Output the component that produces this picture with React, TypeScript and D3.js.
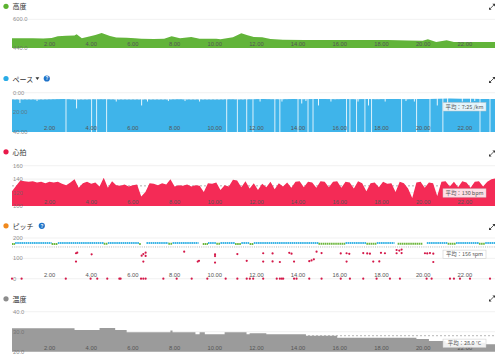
import React from 'react';
import * as d3 from 'd3';

// ---------- data ----------
const totalKm = 23.17;
const distanceTicks = [2, 4, 6, 8, 10, 12, 14, 16, 18, 20, 22];

const altitude: [number, number][] = [
  [0, 494], [0.5, 495], [1.0, 494], [1.5, 493], [1.9, 496], [2.2, 505], [2.6, 508], [3.0, 510],
  [3.1, 516], [3.35, 494], [3.75, 506], [4.0, 512], [4.3, 524], [4.7, 507], [5.0, 498], [5.5, 497],
  [5.9, 494], [6.2, 491], [6.8, 490], [7.3, 491], [7.66, 506], [8.06, 494], [8.6, 501], [9.0, 492],
  [9.8, 491], [10.0, 489], [10.6, 500], [11.0, 522], [11.3, 511], [11.6, 501], [12.0, 500], [12.4, 490],
  [13.0, 486], [14.0, 485], [15.0, 484], [16.0, 485], [17.0, 484], [18.0, 484], [19.0, 482], [19.7, 481],
  [19.95, 489], [20.35, 473], [20.85, 483], [21.2, 473], [22.0, 473], [23.17, 473],
];

const paceBase: [number, number][] = [
  [0, 7.0], [0.5, 6.9], [1.0, 6.8], [1.5, 6.9], [2.0, 6.7], [2.5, 6.3], [3.0, 6.8], [3.5, 6.9],
  [4.0, 6.6], [4.5, 6.7], [5.0, 6.8], [5.5, 6.9], [6.0, 7.0], [6.5, 6.8], [7.0, 6.9], [7.5, 6.8],
  [8.0, 6.7], [8.5, 6.8], [9.0, 6.9], [9.5, 6.8], [10.0, 6.9], [10.5, 6.7], [11.0, 6.8], [11.5, 6.6],
  [12.0, 6.5], [12.5, 6.6], [13.0, 6.7], [13.5, 6.5], [14.0, 6.6], [14.5, 6.4], [15.0, 6.5], [15.5, 6.6],
  [16.0, 6.5], [16.5, 6.6], [17.0, 6.5], [17.5, 6.6], [18.0, 6.5], [18.5, 6.4], [19.0, 6.6], [19.5, 6.5],
  [20.0, 6.4], [20.5, 6.2], [21.0, 6.0], [21.5, 6.1], [22.0, 6.2], [22.5, 6.3], [23.0, 6.4], [23.17, 6.5],
];
const paceDips: [number, number][] = [
  [0.38, 10.5], [1.2, 8.5], [3.1, 16], [5.0, 9], [6.22, 13], [6.5, 9], [7.5, 8.5], [8.3, 8.5],
  [9.0, 9], [11.9, 9], [12.95, 9], [13.9, 11], [14.1, 8.5], [14.7, 13], [15.3, 9], [16.6, 9],
  [17.1, 13], [17.9, 9], [18.9, 8.5], [19.3, 9], [20.4, 13], [20.9, 11], [21.6, 9], [22.0, 10], [22.2, 8.5],
];
const paceStops = [
  2.59, 3.82, 4.06, 4.54, 10.3, 10.81, 11.26, 11.56, 12.61, 12.85, 13.72, 14.2, 14.44, 16.05,
  16.21, 16.53, 16.93, 17.25, 18.69, 19.41, 20.05, 20.67, 22.45, 22.93,
];
const paceAvg = 7 + 25 / 60;

// heart rate every 0.2 km
const heartRate = [
  122, 130, 138, 137, 136, 137,
  135, 136, 134, 136, 135,
  136, 133, 131, 135, 140,
  127, 134, 136, 133, 135,
  129, 142, 127, 137, 131,
  130, 132, 129, 131, 132,
  114, 121, 134, 133, 131,
  134, 132, 140, 129, 131,
  130, 132, 129, 131, 130,
  121, 134, 133, 135, 124,
  131, 129, 139, 138, 128,
  137, 126, 134, 124, 133,
  128, 136, 125, 134, 129,
  135, 127, 136, 137, 128,
  136, 135, 127, 137, 136,
  128, 136, 137, 127, 136,
  135, 126, 137, 134, 122,
  134, 135, 128, 136, 133,
  134, 121, 136, 134, 126,
  112, 135, 136, 127, 135,
  134, 115, 136, 137, 129,
  136, 128, 137, 135, 127,
  136, 137, 129, 136, 140,
  141,
];
const hrStep = 0.2;
const hrAvg = 130;

// cadence runs [startKm, endKm, spm]
const cadenceRuns: [number, number, number][] = [
  [0, 0.15, 171], [0.15, 1.9, 176], [1.9, 2.2, 171], [2.2, 4.4, 176], [4.4, 4.6, 172], [4.6, 6.1, 176],
  [6.1, 6.18, 170], [6.45, 7.5, 176], [7.5, 7.7, 172], [7.7, 8.95, 176], [9.15, 9.4, 171], [9.4, 9.8, 176],
  [9.8, 10.0, 172], [10.0, 10.7, 176], [10.7, 11.0, 171], [11.0, 11.4, 176], [11.4, 11.6, 171],
  [11.6, 14.7, 176], [14.7, 16.0, 172], [16.0, 17.0, 176], [17.0, 17.5, 172], [17.5, 18.35, 176],
  [18.5, 19.7, 172], [19.9, 20.9, 176], [20.9, 21.3, 172], [21.3, 22.4, 176], [22.4, 22.7, 172],
  [22.7, 23.17, 176],
];
const cadenceLow: [number, number][] = [
  [3.07, 125], [3.13, 128], [3.07, 84], [3.82, 120], [6.22, 113], [6.3, 121], [6.41, 128], [6.41, 112],
  [6.3, 84], [8.26, 133], [8.91, 84], [8.97, 88], [9.74, 120], [9.74, 111], [9.74, 79], [10.81, 121],
  [11.26, 88],
  [12.05, 125], [12.5, 124], [13.3, 127], [13.41, 123], [14.61, 133], [14.85, 126], [15.77, 124],
  [16.05, 125], [16.18, 122], [16.85, 126], [17.04, 124], [17.17, 123], [17.7, 127], [17.89, 125],
  [18.45, 141], [18.58, 138], [18.69, 143], [18.45, 125], [18.69, 126], [19.81, 125], [19.92, 124],
  [20.05, 126], [20.21, 123],
  [12.05, 84], [12.5, 85], [12.85, 82], [13.53, 84], [14.26, 86], [14.37, 90], [14.48, 95],
  [16.05, 84], [17.33, 84], [17.62, 85], [20.21, 82],
];
const cadenceZero = [
  0.0, 0.46, 2.58, 3.77, 4.09, 4.57, 5.15, 5.21, 6.19, 6.3, 6.41, 7.26, 7.9, 8.62, 9.37, 10.25,
  10.81, 11.26, 11.41, 11.57, 12.05, 12.7, 12.85, 12.94, 13.01, 13.53, 13.65, 14.26, 14.85, 15.77,
  16.21, 16.85, 17.49, 18.13, 18.61, 19.89, 20.13, 21.01, 21.2, 21.49, 21.97, 22.93,
];
const cadenceAvg = 156;

// temperature steps [startKm, °C]
const temperature: [number, number][] = [
  [0, 31.7], [3.0, 30.8], [4.2, 31.8], [4.95, 30.8], [5.5, 29.7], [7.6, 30.6], [7.7, 29.7],
  [8.8, 28.7], [9.0, 29.7], [9.25, 28.7], [10.2, 29.7], [11.25, 28.7], [11.4, 29.2], [12.2, 28.7],
  [14.1, 28.0], [15.6, 27.0], [19.4, 26.3], [20.0, 25.3], [20.8, 24.5], [22.7, 23.7], [23.17, 23.7],
];
const tempAvg = 28.0;

const titles = ['高度', 'ペース', '心拍', 'ピッチ', '温度'];
const dotColors = ['#5bb22f', '#29abe6', '#e8194a', '#f0891d', '#8c8c8c'];
const avgLabels = ['平均：7:25 /km', '平均：130 bpm', '平均：156 spm', '平均：28.0 °C'];

// ---------- layout ----------
const W = 500, H = 357;
const X0 = 12, X1 = 495;
const FONT = '"Liberation Sans", Arial, sans-serif';
const JP = '"Noto Sans CJK JP", "Noto Sans", sans-serif';

const x = d3.scaleLinear().domain([0, totalKm]).range([X0, X1]);

const yAlt = d3.scaleLinear().domain([440, 600]).range([48, 19.3]);
const yPace = d3.scaleLinear().domain([0, 40]).range([92.7, 132]);
const yHr = d3.scaleLinear().domain([100, 160]).range([206, 165.7]);
const yCad = d3.scaleLinear().domain([0, 200]).range([278.7, 238]);
const yTemp = d3.scaleLinear().domain([20, 40]).range([351.7, 311.7]);

function cadColor(v: number) {
  return v >= 174 ? '#3cb5e6' : '#6cb63c';
}

function Expand({ cx, cy }: { cx: number; cy: number }) {
  return (
    <g>
      <line x1={cx - 2} y1={cy + 2} x2={cx + 2} y2={cy - 2} stroke="#333" strokeWidth={0.8} />
      <path d={`M${cx + 3},${cy - 3}L${cx + 0.4},${cy - 3}L${cx + 3},${cy - 0.4}Z`} fill="#333" />
      <path d={`M${cx - 3},${cy + 3}L${cx - 0.4},${cy + 3}L${cx - 3},${cy + 0.4}Z`} fill="#333" />
    </g>
  );
}

function Title({ i, y, extra }: { i: number; y: number; extra?: React.ReactNode }) {
  return (
    <g>
      <circle cx={6} cy={y} r={2.6} fill={dotColors[i]} />
      <text x={12.5} y={y} dominantBaseline="central" fontFamily={JP} fontSize={7} fill="#333">
        {titles[i]}
      </text>
      {extra}
    </g>
  );
}

function Help({ cx, cy }: { cx: number; cy: number }) {
  return (
    <g>
      <circle cx={cx} cy={cy} r={3.1} fill="#1f73c9" />
      <text x={cx} y={cy + 0.2} textAnchor="middle" dominantBaseline="central" fontFamily={FONT}
        fontSize={4.6} fontWeight="bold" fill="#fff">?</text>
    </g>
  );
}

function Grid({ scale, ticks, fmt }: { scale: d3.ScaleLinear<number, number>; ticks: number[]; fmt: (v: number) => string }) {
  return (
    <g>
      {ticks.map((t) => (
        <line key={'g' + t} x1={X0} x2={X1} y1={scale(t)} y2={scale(t)} stroke="#e8e8e8" strokeWidth={0.6} />
      ))}
    </g>
  );
}

function YLabels({ scale, ticks, fmt }: { scale: d3.ScaleLinear<number, number>; ticks: number[]; fmt: (v: number) => string }) {
  return (
    <g>
      {ticks.map((t) => (
        <text key={'l' + t} x={13} y={scale(t)} dominantBaseline="central" fontFamily={FONT}
          fontSize={5.8} fill="#666" fillOpacity={0.75}>{fmt(t)}</text>
      ))}
    </g>
  );
}

function XLabels({ yBottom }: { yBottom: number }) {
  return (
    <g>
      {distanceTicks.map((d) => (
        <text key={d} x={x(d) + 1.5} y={yBottom - 4} textAnchor="end" dominantBaseline="central"
          fontFamily={FONT} fontSize={5.8} fill="#555">{d.toFixed(2)}</text>
      ))}
    </g>
  );
}

function AvgBox({ label, yc }: { label: string; yc: number }) {
  return (
    <g>
      <rect x={443} y={yc - 4.2} width={43} height={8.4} fill="#fff" fillOpacity={0.85} stroke="#c8c8c8" strokeWidth={0.5} />
      <text x={464.5} y={yc} textAnchor="middle" dominantBaseline="central" fontFamily={JP} fontSize={5.4} fill="#555">
        {label}
      </text>
    </g>
  );
}

export default function App() {
  const altArea = d3.area<[number, number]>().x((d) => x(d[0])).y0(yAlt(440)).y1((d) => yAlt(d[1]))(altitude) || '';
  const paceArea = d3.area<[number, number]>().x((d) => x(d[0])).y0(yPace(40)).y1((d) => yPace(d[1]))(paceBase) || '';
  const hrPts: [number, number][] = heartRate.map((v, i) => [Math.min(i * hrStep, totalKm), v]);
  const hrArea = d3.area<[number, number]>().x((d) => x(d[0])).y0(yHr(100)).y1((d) => yHr(d[1]))(hrPts) || '';
  const tempArea = d3.area<[number, number]>().curve(d3.curveStepAfter).x((d) => x(d[0])).y0(yTemp(20)).y1((d) => yTemp(d[1]))(temperature) || '';

  return (
    <svg width={W} height={H} viewBox={`0 0 ${W} ${H}`} style={{ position: 'fixed', left: 0, top: 0, background: '#fff' }}>
      <rect width={W} height={H} fill="#fff" />

      {/* ---- altitude ---- */}
      <Title i={0} y={6.3} />
      <Expand cx={492} cy={6.8} />
      <Grid scale={yAlt} ticks={[600]} fmt={(v) => v.toFixed(1)} />
      <path d={altArea} fill="#62b43a" />
      <YLabels scale={yAlt} ticks={[600, 440]} fmt={(v) => v.toFixed(1)} />
      <XLabels yBottom={yAlt(440)} />

      {/* ---- pace ---- */}
      <Title i={1} y={78.5} extra={
        <g>
          <path d="M35.5,77.3L39.3,77.3L37.4,80Z" fill="#333" />
          <Help cx={46.8} cy={78.5} />
        </g>
      } />
      <Expand cx={492} cy={80} />
      <Grid scale={yPace} ticks={[0, 20]} fmt={(v) => v + ':00'} />
      <line x1={X0} x2={X1} y1={yPace(paceAvg)} y2={yPace(paceAvg)} stroke="#888" strokeWidth={0.6} strokeDasharray="2,2" />
      <path d={paceArea} fill="#3fb4ea" />
      {paceDips.map(([k, v], i) => (
        <rect key={'pd' + i} x={x(k) - 0.45} width={0.9} y={yPace(0) + 0.5} height={yPace(v) - yPace(0) - 0.5} fill="#fff" />
      ))}
      {paceStops.map((k, i) => (
        <rect key={'ps' + i} x={x(k) - 0.45} width={0.9} y={yPace(0) + 0.5} height={yPace(40) - yPace(0) - 0.5} fill="#fff" fillOpacity={0.9} />
      ))}
      <YLabels scale={yPace} ticks={[0, 20, 40]} fmt={(v) => v + ':00'} />
      <XLabels yBottom={yPace(40)} />
      <AvgBox label={avgLabels[0]} yc={106.8} />

      {/* ---- heart rate ---- */}
      <Title i={2} y={151.8} />
      <Expand cx={492} cy={153.5} />
      <Grid scale={yHr} ticks={[160, 140, 120]} fmt={(v) => String(v)} />
      <line x1={X0} x2={X1} y1={yHr(hrAvg)} y2={yHr(hrAvg)} stroke="#777" strokeWidth={0.6} strokeDasharray="2,2" />
      <path d={hrArea} fill="#f42b56" />
      <YLabels scale={yHr} ticks={[160, 140, 120, 100]} fmt={(v) => String(v)} />
      <XLabels yBottom={yHr(100)} />
      <AvgBox label={avgLabels[1]} yc={193} />

      {/* ---- cadence ---- */}
      <Title i={3} y={225.8} extra={<Help cx={41.8} cy={225.8} />} />
      <Expand cx={492} cy={227} />
      <Grid scale={yCad} ticks={[200, 100, 0]} fmt={(v) => String(v)} />
      <line x1={X0} x2={X1} y1={yCad(cadenceAvg)} y2={yCad(cadenceAvg)} stroke="#999" strokeWidth={0.7} strokeDasharray="1,1.2" />
      {cadenceRuns.map(([a, b, v], i) => (
        <line key={'cr' + i} x1={x(a)} x2={x(b)} y1={yCad(v)} y2={yCad(v)} stroke={cadColor(v)} strokeWidth={2}
          strokeDasharray="1.6,0.5" />
      ))}
      {cadenceLow.map(([k, v], i) => (
        <circle key={'cl' + i} cx={x(k)} cy={yCad(v)} r={1.1} fill="#d41849" />
      ))}
      {cadenceZero.map((k, i) => (
        <circle key={'cz' + i} cx={x(k)} cy={yCad(0)} r={1.1} fill="#d41849" />
      ))}
      <YLabels scale={yCad} ticks={[200, 100, 0]} fmt={(v) => String(v)} />
      <XLabels yBottom={yCad(0)} />
      <AvgBox label={avgLabels[2]} yc={254.3} />

      {/* ---- temperature ---- */}
      <Title i={4} y={298.8} />
      <Expand cx={492} cy={298.5} />
      <Grid scale={yTemp} ticks={[40, 30]} fmt={(v) => v.toFixed(1)} />
      <line x1={X0} x2={X1} y1={yTemp(tempAvg)} y2={yTemp(tempAvg)} stroke="#888" strokeWidth={0.6} strokeDasharray="2,2" />
      <path d={tempArea} fill="#9b9b9b" />
      <YLabels scale={yTemp} ticks={[40, 30, 20]} fmt={(v) => v.toFixed(1)} />
      <XLabels yBottom={yTemp(20)} />
      <AvgBox label={avgLabels[3]} yc={343.3} />
    </svg>
  );
}
